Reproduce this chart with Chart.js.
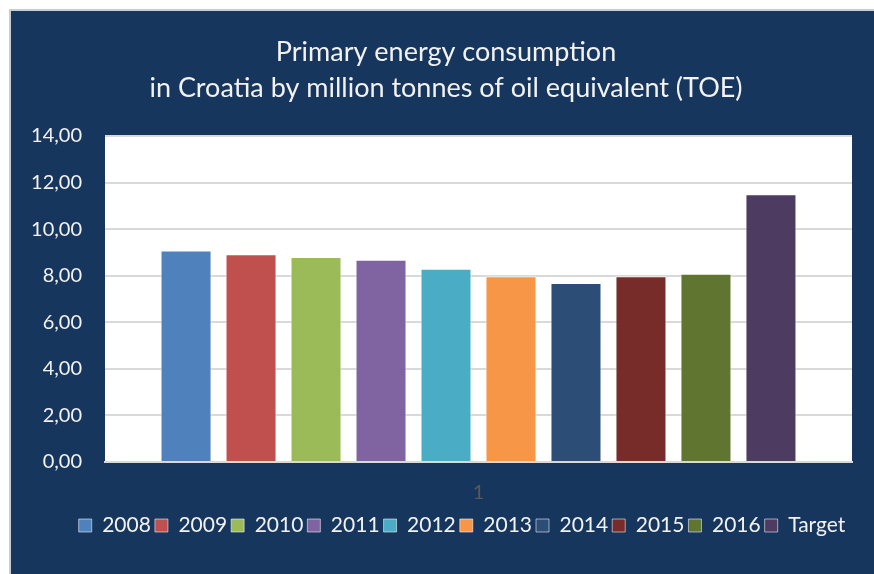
<!DOCTYPE html>
<html>
<head>
<meta charset="utf-8">
<script src="https://cdn.jsdelivr.net/npm/chart.js@4.4.1/dist/chart.umd.min.js"></script>
<style>
  html, body { margin: 0; padding: 0; background: #ffffff; width: 874px; height: 574px; overflow: hidden; }
  #wrap { position: absolute; left: 9px; top: 9px; width: 865px; height: 565px;
          border-left: 2px solid #c9ccd0; border-top: 2px solid #c9ccd0; background: #17365d; }
  canvas { display: block; }
</style>
</head>
<body>
<div id="wrap"><canvas id="c" width="863" height="563"></canvas></div>
<script>
// ---- data ----
const categories = ["1"];
const seriesNames = ["2008", "2009", "2010", "2011", "2012", "2013", "2014", "2015", "2016", "Target"];
const seriesValues = [9.08, 8.92, 8.80, 8.69, 8.30, 7.98, 7.69, 7.98, 8.08, 11.50];
const seriesColors = ["#4f81bd", "#c0504d", "#9bbb59", "#8064a2", "#4bacc6", "#f79646", "#2c4d75", "#772c2a", "#5f7530", "#4d3b62"];
const yTicks = [0, 2, 4, 6, 8, 10, 12, 14];
const titleLines = ["Primary energy consumption", "in Croatia by million tonnes of oil equivalent (TOE)"];

const FONT = "Lato, 'Open Sans', sans-serif";

const plotBg = {
  id: 'plotBg',
  beforeDraw(chart) {
    const {ctx, chartArea: a} = chart;
    ctx.save();
    ctx.fillStyle = '#ffffff';
    ctx.fillRect(a.left, a.top, a.right - a.left, a.bottom - a.top);
    ctx.restore();
  }
};
const legendShift = {
  id: 'legendShift',
  afterLayout(chart) {
    const lg = chart.legend;
    if (lg) { lg.left += 16; lg.right += 16; }
  }
};

const datasets = seriesNames.map((name, i) => ({
  label: name,
  data: [seriesValues[i]],
  backgroundColor: seriesColors[i],
  borderColor: 'rgba(255,255,255,0.55)',
  borderWidth: 1,
  categoryPercentage: 0.87,
  barPercentage: 0.785
}));

new Chart(document.getElementById('c'), {
  type: 'bar',
  data: { labels: categories, datasets },
  plugins: [plotBg, legendShift],
  options: {
    responsive: false,
    animation: false,
    devicePixelRatio: 1,
    layout: { padding: { left: 12, right: 5, top: 0, bottom: 28 } },
    plugins: {
      title: {
        display: true,
        text: titleLines,
        color: '#f2f2f2',
        font: { family: FONT, size: 27, weight: 'normal', lineHeight: 1.3333 },
        padding: { top: 23, bottom: 30 }
      },
      legend: {
        display: true,
        position: 'bottom',
        labels: {
          color: '#f2f2f2',
          font: { family: FONT, size: 21 },
          boxWidth: 13,
          boxHeight: 13,
          padding: 4
        }
      },
      tooltip: { enabled: false }
    },
    scales: {
      x: {
        grid: { display: false, drawTicks: false },
        border: { display: true, color: '#d9d9d9', width: 2 },
        ticks: { color: '#595959', font: { family: FONT, size: 20 }, padding: 19 },
        afterFit(s) { s.height = 49; }
      },
      y: {
        min: 0, max: 14,
        grid: { color: '#d9d9d9', lineWidth: 2, drawTicks: false },
        border: { display: false },
        afterBuildTicks(s) { s.ticks = yTicks.map(v => ({ value: v })); },
        ticks: {
          color: '#f2f2f2',
          font: { family: FONT, size: 20 },
          padding: 23,
          callback: v => Number(v).toFixed(2).replace('.', ',')
        },
        afterFit(s) { s.width = 82; }
      },
      yRight: {
        position: 'right',
        display: true,
        grid: { display: false, drawTicks: false },
        border: { display: false },
        ticks: { display: false },
        afterFit(s) { s.width = 17; }
      }
    }
  }
});
</script>
</body>
</html>
